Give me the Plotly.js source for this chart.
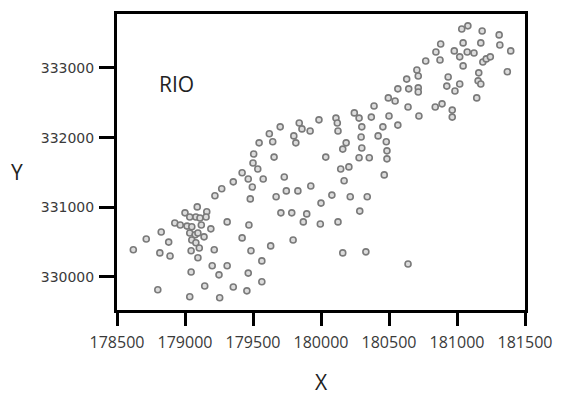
<!DOCTYPE html>
<html>
<head>
<meta charset="utf-8">
<script src="https://cdn.plot.ly/plotly-3.0.1.min.js"></script>
<style>html,body{margin:0;padding:0;background:#fff;}#chart{width:564px;height:396px;}</style>
</head>
<body>
<div id="chart"></div>
<script>
const xValues = [
179700,179840,179860,179920,179985,179620,179800,179545,179645,179815,
179505,179655,180035,179500,179535,179420,179465,179575,179730,179355,
179270,179495,179220,179745,179830,179925,179480,179670,180000,179090,
179160,179000,179035,179080,179110,179155,179705,179785,179895,178925,
178965,179015,179050,179120,179310,179470,179870,179995,178825,178715,
178880,179035,179075,179095,179140,179190,179050,179080,179420,179795,
178620,178815,178890,179045,179105,179215,179485,179630,179095,179200,
179310,179565,179045,179250,179465,178800,179145,179355,179455,179565,
179035,179255,180145,180205,180465,180170,180080,180215,180340,180285,
180125,180160,180330,180640,181035,181080,181185,181310,180880,181045,
181175,181315,181395,180845,180980,181020,181075,181125,181190,181215,
181245,180770,180875,181045,180705,180715,180630,180935,181160,181370,
180565,180645,180715,180715,180925,180985,181020,181155,181175,180495,
180545,181145,180390,180640,180840,180890,180965,180965,180720,180500,
180245,180280,180370,180110,180120,180125,180300,180455,180565,180295,
180420,180185,180160,180300,180480,180485,180280,180355,180485
];
const yValues = [
332155,332210,332125,332095,332255,332055,332025,331925,331940,331925,
331765,331720,331720,331635,331550,331495,331405,331405,331435,331365,
331265,331290,331165,331235,331235,331305,331120,331150,331060,331005,
330935,330920,330860,330860,330845,330860,330920,330920,330905,330775,
330745,330730,330720,330745,330790,330745,330790,330760,330645,330545,
330500,330630,330605,330630,330575,330690,330530,330490,330560,330530,
330390,330345,330300,330375,330415,330390,330375,330445,330275,330160,
330160,330230,330070,330030,330055,329815,329870,329855,329800,329930,
329715,329700,331550,331580,331465,331380,331175,331150,331150,330945,
330790,330345,330360,330185,333560,333605,333530,333475,333345,333360,
333360,333330,333245,333230,333245,333160,333230,333215,333085,333130,
333160,333100,333115,333030,332970,332885,332840,332870,332930,332945,
332700,332700,332715,332655,332740,332670,332770,332815,332770,332570,
332525,332570,332455,332440,332440,332485,332395,332295,332310,332310,
332355,332280,332295,332280,332210,332095,332155,332155,332180,332010,
332025,331925,331835,331850,331940,331810,331710,331710,331695
];
const xTicks = [178500,179000,179500,180000,180500,181000,181500];
const yTicks = [330000,331000,332000,333000];
const xTitle = "X";
const yTitle = "Y";
const label = "RIO";

const trace = {
  type: 'scatter', mode: 'markers', x: xValues, y: yValues,
  marker: {size: 6, color: '#dcdcdc', line: {color: '#7a7a7a', width: 1.6}},
  hoverinfo: 'none', showlegend: false
};

const layout = {
  width: 564, height: 396,
  margin: {l: 117, r: 39, t: 14, b: 86, pad: 0},
  paper_bgcolor: '#ffffff', plot_bgcolor: '#ffffff',
  showlegend: false,
  xaxis: {
    range: [178500, 181500], tickvals: xTicks, ticktext: xTicks.map(String),
    showgrid: false, zeroline: false, showline: true, mirror: true,
    linecolor: '#000', linewidth: 3, ticks: 'outside', ticklen: 13, tickwidth: 3, tickcolor: '#000',
    tickfont: {family: 'Open Sans, sans-serif', size: 16, color: '#3a3a3a'},
    ticklabelstandoff: 3,
    title: {text: xTitle, font: {family: 'Open Sans, sans-serif', size: 21, color: '#222'}, standoff: 24}
  },
  yaxis: {
    range: [329525, 333775], tickvals: yTicks, ticktext: yTicks.map(String),
    showgrid: false, zeroline: false, showline: true, mirror: true,
    linecolor: '#000', linewidth: 3, ticks: 'outside', ticklen: 15, tickwidth: 3, tickcolor: '#000',
    tickfont: {family: 'DejaVu Sans, sans-serif', size: 14, color: '#3a3a3a'},
    ticklabelstandoff: 2
  },
  annotations: [
    {text: label, xref: 'paper', yref: 'paper', x: 0.145, y: 0.765, xanchor: 'center', yanchor: 'middle',
     showarrow: false, font: {family: 'Open Sans, sans-serif', size: 21, color: '#222'}},
    {text: yTitle, xref: 'paper', yref: 'paper', x: -0.245, y: 0.465, xanchor: 'center', yanchor: 'middle',
     showarrow: false, font: {family: 'Open Sans, sans-serif', size: 21, color: '#222'}}
  ]
};

Plotly.newPlot('chart', [trace], layout, {staticPlot: true, displayModeBar: false});
</script>
</body>
</html>
